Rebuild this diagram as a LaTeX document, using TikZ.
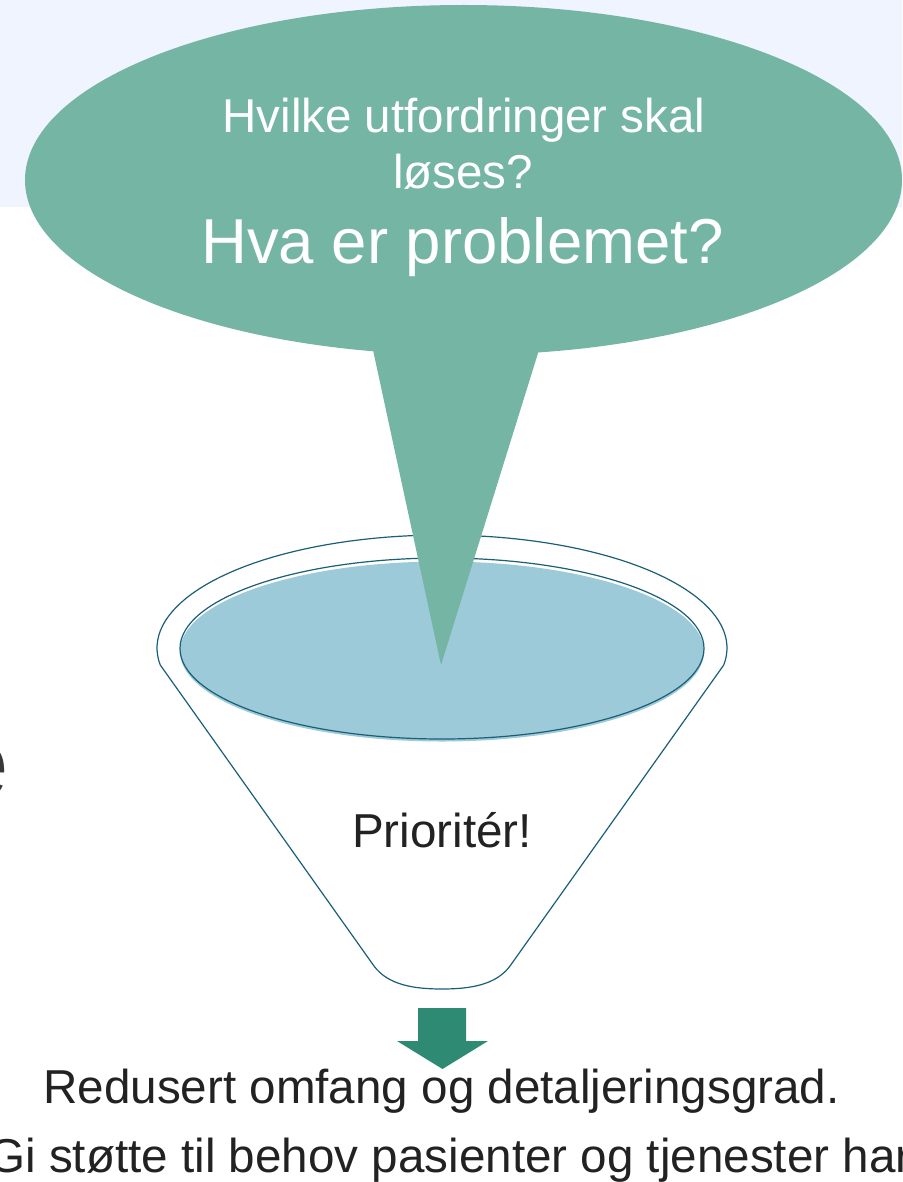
\documentclass[tikz,border=0pt]{standalone}
\usepackage{fontspec}
\setmainfont{Liberation Sans}
\usetikzlibrary{shapes,positioning}
\definecolor{bandblue}{HTML}{EFF4FE}
\definecolor{bubblegreen}{HTML}{75B5A4}
\definecolor{funnelline}{HTML}{1B5E78}
\definecolor{funnelfill}{HTML}{9CCAD8}
\definecolor{arrowgreen}{HTML}{2E8A72}
\definecolor{textgray}{HTML}{222222}
\tikzstyle{bubble} = [ellipse, fill=bubblegreen, inner sep=0pt,
    minimum width=877pt, minimum height=350pt]
\tikzstyle{bubbletext} = [text=white, inner sep=0pt, anchor=base]
\tikzstyle{basin} = [ellipse, draw=funnelline, line width=1.2pt, inner sep=0pt,
    minimum width=524pt, minimum height=181pt]
\tikzstyle{rim} = [draw=funnelline, line width=1.2pt, fill=white]
\tikzstyle{bodytext} = [text=textgray, inner sep=0pt, anchor=base,
    font=\fontsize{47.6}{57}\selectfont]

\begin{document}
\begin{tikzpicture}[x=1pt, y=-1pt]
  \useasboundingbox (0,0) rectangle (902,1182);
  \clip (0,0) rectangle (902,1182);
  % Background band
  \fill [bandblue] (0,0) rectangle (902,207);
  % Place nodes
  \node [bubble] (question) at (463.5,180) {};
  \node [bodytext, anchor=base east, text=textgray!90,
  font=\fontsize{100}{110}\selectfont] (cut) at (9,797) {e};
  % Funnel
  \draw [rim] plot [domain=171.35:368.65, samples=80]
    ({442+285*cos(\x)}, {648+113*sin(\x)})
    -- (510,966) .. controls (496,985) and (470,989) .. (442,989)
    .. controls (414,989) and (388,985) .. (374,966) -- cycle;
  \fill [funnelfill] (442,651.5) ellipse [x radius=262pt, y radius=90pt];
  \node [basin] (basin) at (442,648.5) {};
  % Speech bubble tail
  \coordinate (tailleft) at (373,350);
  \coordinate (tailright) at (539,350);
  \coordinate (tailtip) at (441,665);
  \fill [bubblegreen] (tailleft) -- (tailright) -- (tailtip) -- cycle;
  % Texts
  \node [bubbletext, font=\fontsize{47.5}{57}\selectfont] (line1) at (464,133)
  {Hvilke utfordringer skal};
  \node [bubbletext, font=\fontsize{47.5}{57}\selectfont] (line2) at (463,189)
  {løses?};
  \node [bubbletext, font=\fontsize{63.5}{76}\selectfont] (line3) at (462.5,263)
  {Hva er problemet?};
  \node [bodytext] (prio) at (442,847) {Prioritér!};
  % Arrow
  \fill [arrowgreen] (418,1008) -- (466,1008) -- (466,1041) -- (488,1041)
    -- (442.5,1069) -- (397,1041) -- (418,1041) -- cycle;
  \node [bodytext] (result) at (441.5,1103) {Redusert omfang og detaljeringsgrad.};
  \node [bodytext] (support) at (450,1172)
  {Gi støtte til behov pasienter og tjenester har};
\end{tikzpicture}
\end{document}
